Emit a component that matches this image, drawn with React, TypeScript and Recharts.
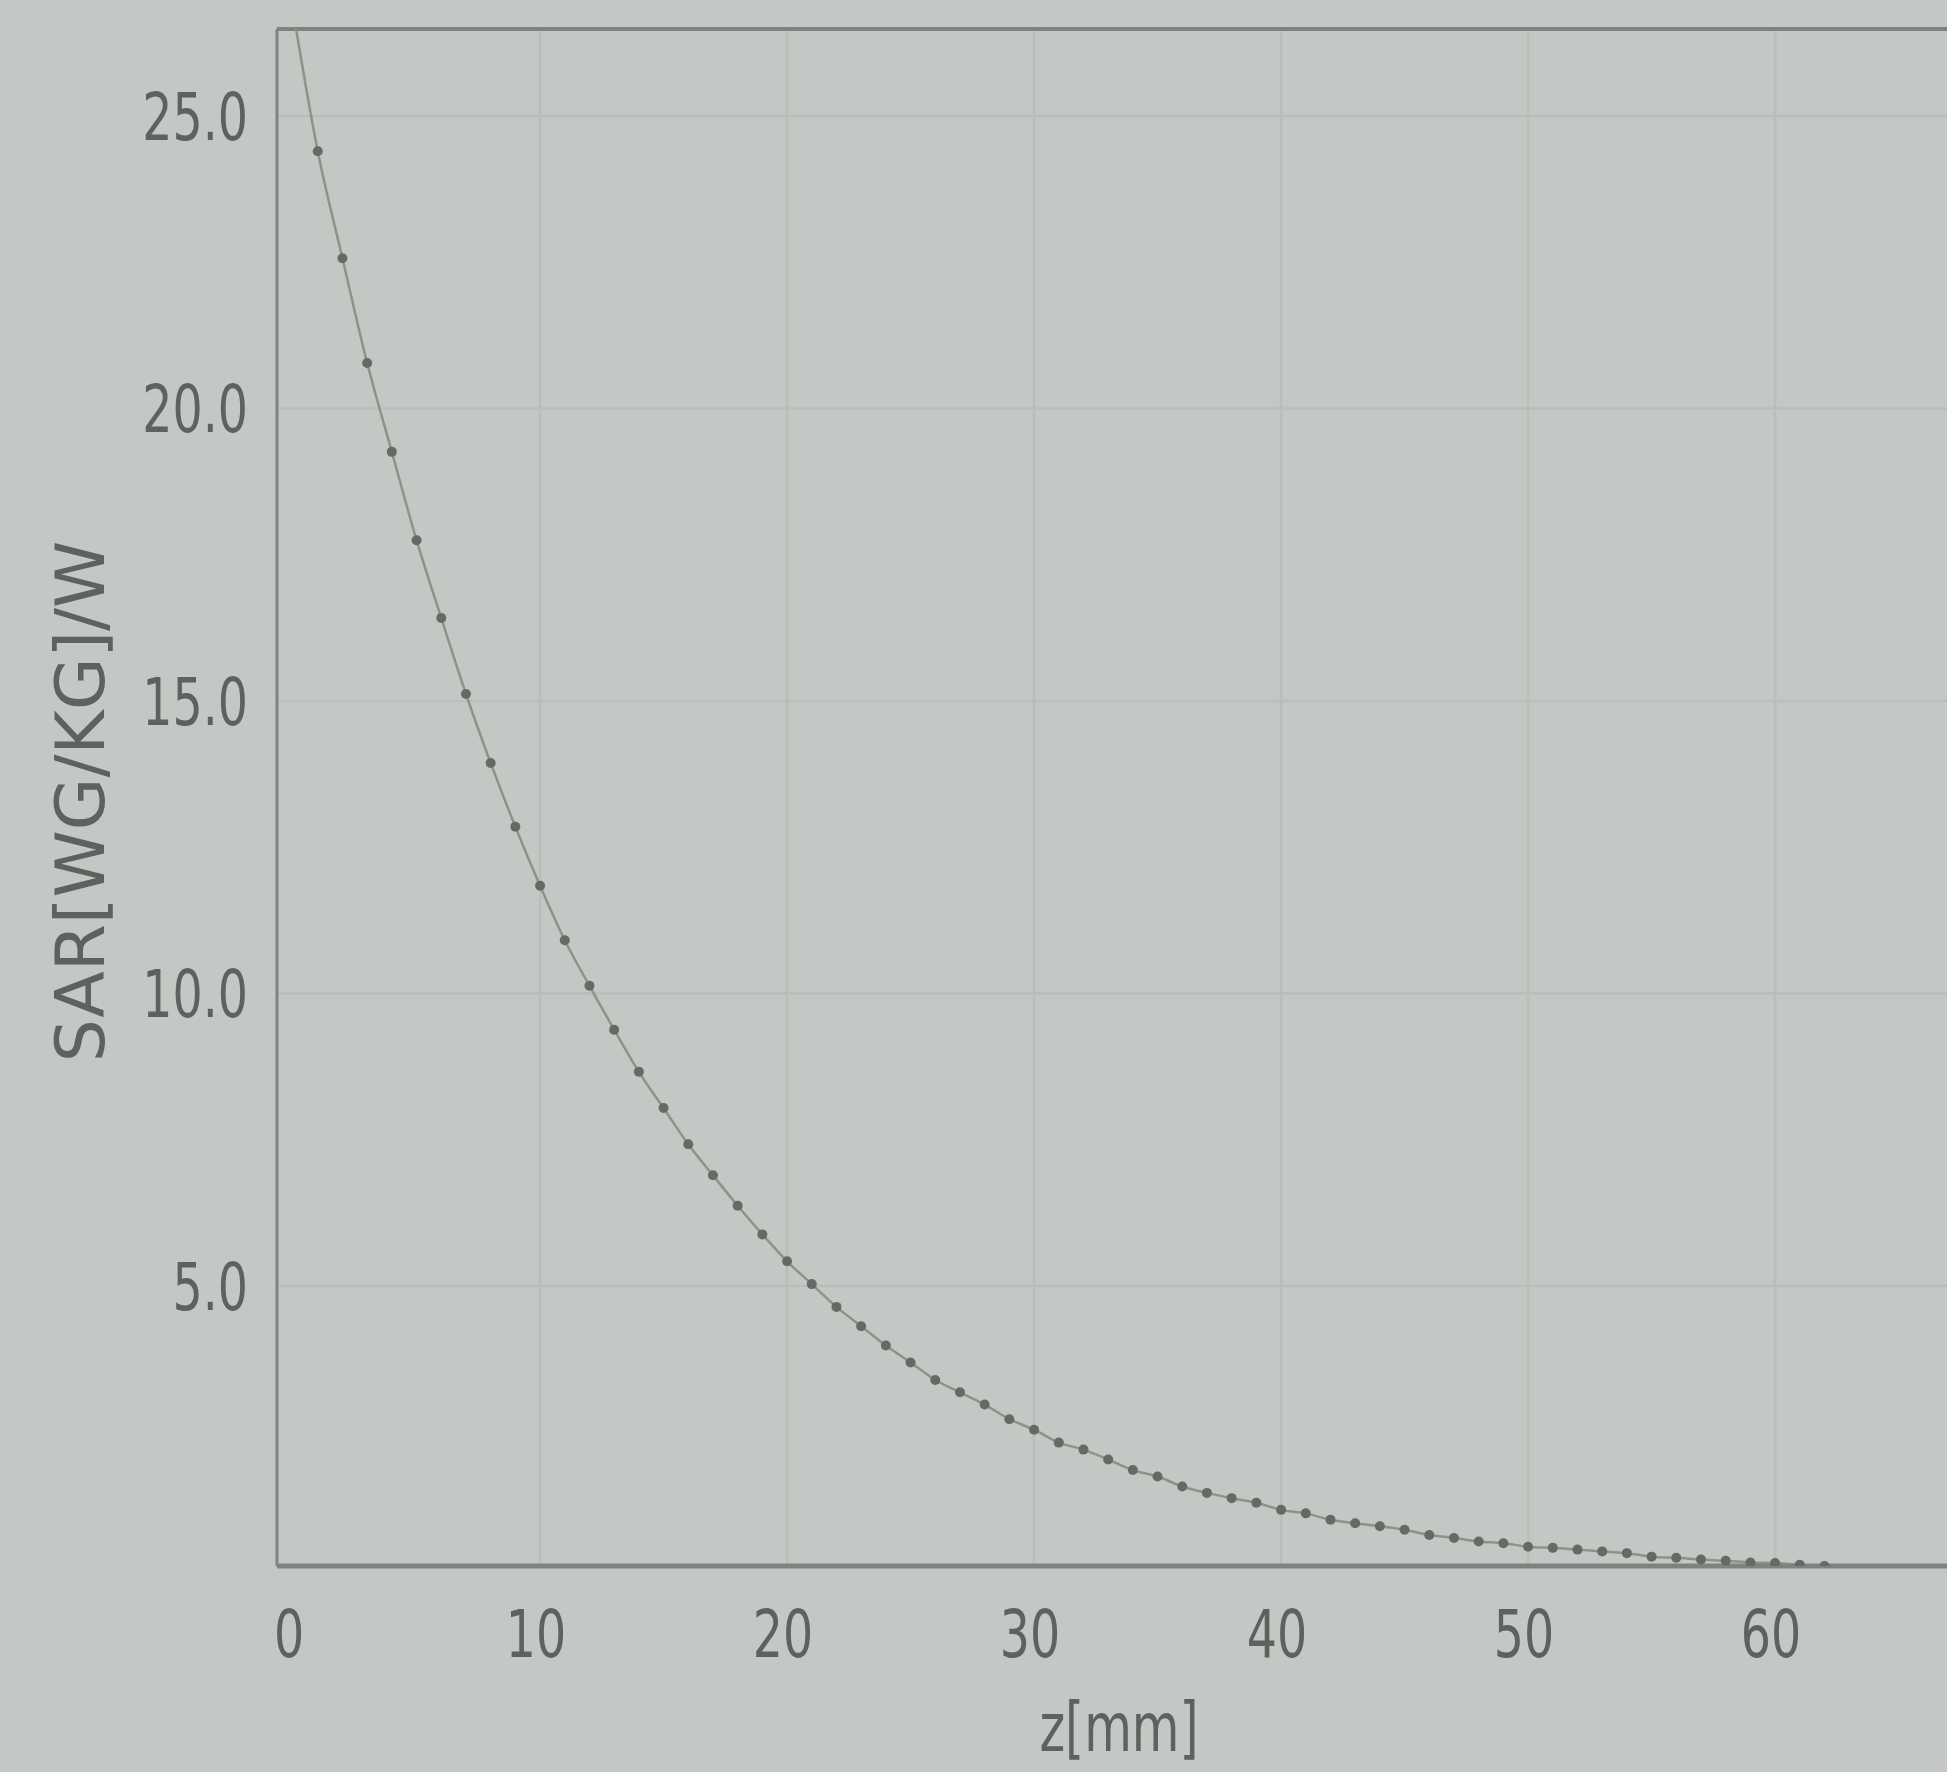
import React from 'react';
import { LineChart, Line, XAxis, YAxis, ReferenceLine, Label } from 'recharts';

// z positions [mm]
const zValues = [
  0, 1, 2, 3, 4, 5, 6, 7, 8, 9, 10, 11, 12, 13, 14, 15, 16, 17, 18, 19, 20,
  21, 22, 23, 24, 25, 26, 27, 28, 29, 30, 31, 32, 33, 34, 35, 36, 37, 38, 39, 40,
  41, 42, 43, 44, 45, 46, 47, 48, 49, 50, 51, 52, 53, 54, 55, 56, 57, 58, 59, 60,
  61, 62,
];
// SAR [W/kg]/W
const sarValues = [
  26.8, 24.4, 22.57, 20.78, 19.26, 17.75, 16.42, 15.12, 13.94, 12.85, 11.84,
  10.91, 10.13, 9.38, 8.66, 8.04, 7.42, 6.89, 6.37, 5.88, 5.42,
  5.03, 4.64, 4.31, 3.98, 3.69, 3.39, 3.18, 2.97, 2.72, 2.54,
  2.32, 2.2, 2.03, 1.85, 1.74, 1.57, 1.46, 1.37, 1.29, 1.17,
  1.11, 1.0, 0.94, 0.89, 0.83, 0.74, 0.69, 0.63, 0.6, 0.54,
  0.52, 0.49, 0.46, 0.43, 0.37, 0.35, 0.32, 0.3, 0.27, 0.26,
  0.23, 0.21,
];
const xTicks = [0, 10, 20, 30, 40, 50, 60];
const yTicks = [5, 10, 15, 20, 25];
const xGrid = [10, 20, 30, 40, 50, 60];
const yGrid = [5, 10, 15, 20, 25];
const xDomain = [-0.65, 66.96];
const yDomain = [0.21, 26.49];

const data = zValues.map((z, i) => ({ z, sar: sarValues[i] }));

const BG = '#c3c8c4';
const TEXT = '#5e625e';
const GRID = '#b9beba';
const FRAME = '#7e837f';

const YTick = (props: any) => {
  const { x, y, payload } = props;
  return (
    <g transform={`translate(${x},${y})`}>
      <text
        x={0}
        y={0}
        dy="0.36em"
        textAnchor="end"
        transform="scale(0.72,1)"
        fontFamily="DejaVu Sans"
        fontSize={66}
        fill={TEXT}
      >
        {Number(payload.value).toFixed(1)}
      </text>
    </g>
  );
};

const XTick = (props: any) => {
  const { x, y, payload } = props;
  return (
    <g transform={`translate(${x - 4},${y})`}>
      <text
        x={0}
        y={0}
        dy="0.36em"
        textAnchor="middle"
        transform="scale(0.72,1)"
        fontFamily="DejaVu Sans"
        fontSize={66}
        fill={TEXT}
      >
        {payload.value}
      </text>
    </g>
  );
};

const XTitle = (props: any) => {
  const vb = props.viewBox || {};
  const cx = vb.x + vb.width / 2;
  const cy = vb.y + 161;
  return (
    <g transform={`translate(${cx + 7},${cy})`}>
      <text
        x={0}
        y={0}
        dy="0.36em"
        textAnchor="middle"
        transform="scale(0.72,1)"
        fontFamily="DejaVu Sans"
        fontSize={68}
        fill={TEXT}
      >
        z[mm]
      </text>
    </g>
  );
};

const YTitle = (props: any) => {
  const vb = props.viewBox || {};
  const cy = vb.y + vb.height / 2 + 4;
  return (
    <text
      x={80}
      y={cy}
      dy="0.36em"
      textAnchor="middle"
      transform={`rotate(-90, 80, ${cy})`}
      fontFamily="DejaVu Sans"
      fontSize={68}
      fill={TEXT}
    >
      SAR[WG/KG]/W
    </text>
  );
};

const Dot = (props: any) => {
  const { cx, cy } = props;
  if (cx == null || cy == null) return null;
  return <circle cx={cx} cy={cy} r={5} fill="#656a66" stroke="none" />;
};

export default function App() {
  return (
    <div
      style={{
        position: 'absolute',
        left: 0,
        top: 0,
        width: 1947,
        height: 1772,
        background: BG,
        overflow: 'hidden',
      }}
    >
      <LineChart
        width={1947}
        height={1772}
        data={data}
        margin={{ top: 29, right: 0, bottom: 0, left: 0 }}
      >
        <XAxis
          dataKey="z"
          type="number"
          domain={xDomain}
          ticks={xTicks}
          allowDataOverflow
          height={206}
          tickSize={0}
          tickMargin={67}
          tickLine={false}
          axisLine={{ stroke: FRAME, strokeWidth: 5 }}
          tick={<XTick />}
          interval={0}
        >
          <Label content={<XTitle />} />
        </XAxis>
        <YAxis
          type="number"
          domain={yDomain}
          ticks={yTicks}
          allowDataOverflow
          width={277}
          tickSize={0}
          tickMargin={29}
          tickLine={false}
          axisLine={{ stroke: FRAME, strokeWidth: 3 }}
          tick={<YTick />}
          interval={0}
        >
          <Label content={<YTitle />} />
        </YAxis>
        {xGrid.map((g) => (
          <ReferenceLine key={`gx${g}`} x={g} stroke={GRID} strokeWidth={2.5} />
        ))}
        {yGrid.map((g) => (
          <ReferenceLine key={`gy${g}`} y={g} stroke={GRID} strokeWidth={2.5} />
        ))}
        <ReferenceLine y={yDomain[1]} stroke={FRAME} strokeWidth={4} />
        <Line
          type="monotone"
          dataKey="sar"
          stroke="#87968a"
          strokeWidth={2.5}
          dot={<Dot />}
          activeDot={false}
          isAnimationActive={false}
        />
      </LineChart>
    </div>
  );
}
